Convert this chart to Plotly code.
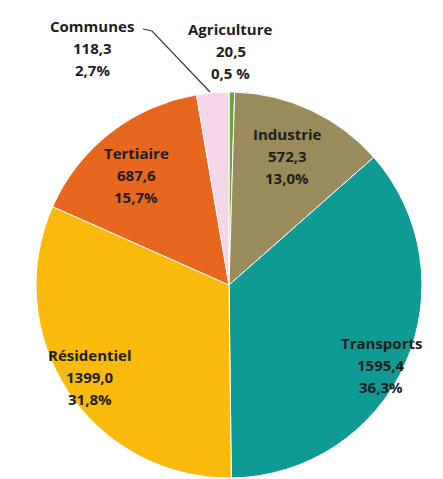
import plotly.graph_objects as go

# ---- data ----
labels = ["Agriculture", "Industrie", "Transports", "Résidentiel", "Tertiaire", "Communes"]
values = [20.5, 572.3, 1595.4, 1399.0, 687.6, 118.3]
value_text = ["20,5", "572,3", "1595,4", "1399,0", "687,6", "118,3"]
pct_text = ["0,5 %", "13,0%", "36,3%", "31,8%", "15,7%", "2,7%"]
colors = ["#6aa23c", "#9a8b5c", "#0f9a93", "#f9ba0b", "#e8671f", "#f3d6e7"]

# page body has an 8px default margin; figure sized to fill the rest
OFF = 8
W, H = 443 - OFF, 479 - OFF

def px(x, y):
    """Convert reference-window pixel coords to paper coords."""
    return (x - OFF) / W, 1 - (y - OFF) / H

# pie geometry (reference pixels)
cx, cy, r = 229, 285, 193
x0, y0 = px(cx - r, cy + r)
x1, y1 = px(cx + r, cy - r)

fig = go.Figure(go.Pie(
    labels=labels,
    values=values,
    sort=False,
    direction="clockwise",
    rotation=0,
    marker=dict(colors=colors, line=dict(color="white", width=1)),
    textinfo="none",
    hoverinfo="label+value+percent",
    showlegend=False,
    domain=dict(x=[max(x0, 0), min(x1, 1)], y=[max(y0, 0), min(y1, 1)]),
))

# label positions (reference pixel centre x, y of first line)
label_pos = [(231, 29), (287, 134), (381, 343), (90, 355), (136, 153), (92, 26)]
LINE = 22

for lab, v, p, (x, y) in zip(labels, value_text, pct_text, label_pos):
    for i, t in enumerate([lab, v, p]):
        ax, ay = px(x, y + i * LINE)
        fig.add_annotation(
            x=ax, y=ay, xref="paper", yref="paper",
            text=f"<b>{t}</b>",
            showarrow=False, align="center",
            font=dict(family="Open Sans", size=15, color="#1e1e1e"),
            xanchor="center", yanchor="middle",
        )

# leader line for Communes
p1, p2, p3 = px(143, 29), px(152, 31), px(210, 92)
fig.add_shape(type="path", xref="paper", yref="paper",
              path=f"M {p1[0]} {p1[1]} L {p2[0]} {p2[1]} L {p3[0]} {p3[1]}",
              line=dict(color="#3a3a3a", width=1.2))

fig.update_layout(
    width=W, height=H,
    margin=dict(l=0, r=0, t=0, b=0),
    paper_bgcolor="white", plot_bgcolor="white",
)

fig.write_html("out.html")
